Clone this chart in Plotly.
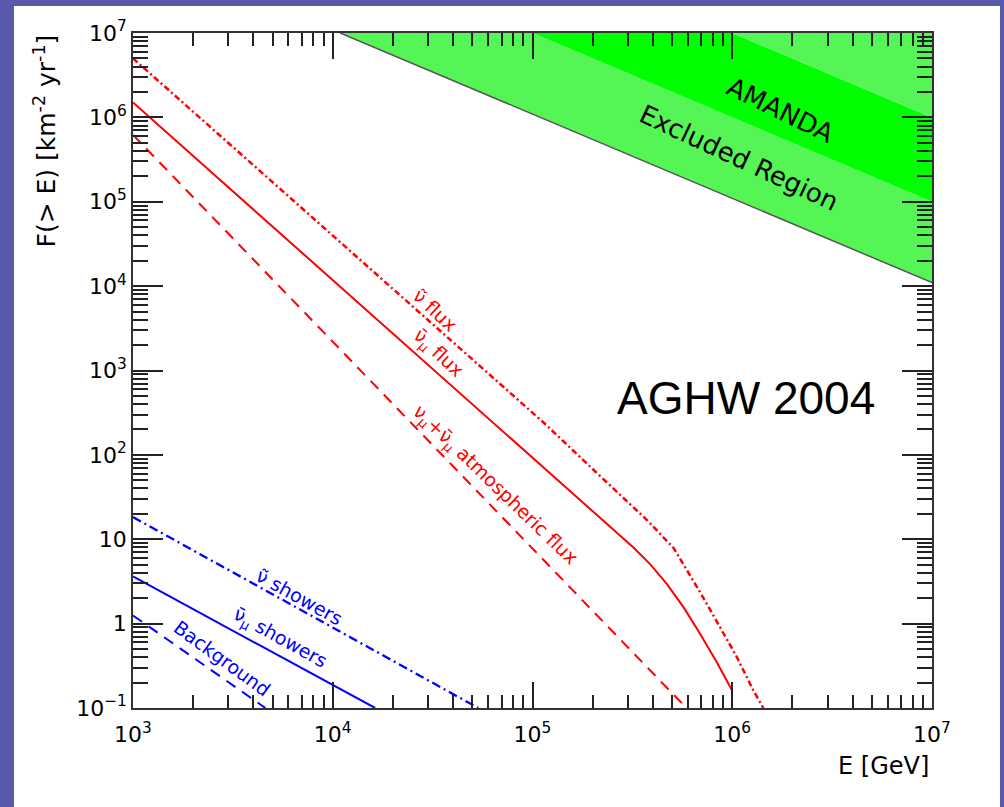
import plotly.graph_objects as go

# ---------------- data ----------------
# red: all-flavour (nu-tilde) flux, dash-dot
E_nu_tilde = [1e3, 1.14e5, 2.36e5, 3.73e5, 5.08e5, 5.93e5, 6.9e5, 8.69e5, 1.055e6, 1.276e6, 1.43e6]
F_nu_tilde = [5.0e6, 240, 47, 17, 7.9, 4.27, 2.36, 0.906, 0.40, 0.161, 0.1]
# red: anti-nu_mu flux, solid
E_numu = [1e3, 2.18e5, 2.7e5, 3.2e5, 3.9e5, 4.7e5, 5.7e5, 6.9e5, 8.37e5, 1e6]
F_numu = [1.5e6, 18, 11.5, 8.0, 5.0, 2.96, 1.57, 0.757, 0.348, 0.16]
# red: atmospheric flux, dashed
E_atm = [1e3, 5.9e5]
F_atm = [6.2e5, 0.1]
# blue: showers
E_sh_tilde = [1e3, 5.35e4]
F_sh_tilde = [18.3, 0.1]
E_sh_numu = [1e3, 1.63e4]
F_sh_numu = [3.62, 0.1]
E_bkg = [1e3, 4.6e3]
F_bkg = [1.25, 0.1]
# AMANDA excluded region: boundary and band edges
E_amanda = [1.09e4, 1e7]
F_amanda = [1e7, 1.1e4]
E_band1 = [1e5, 1e7]
F_band1 = [1e7, 1e5]
E_band2 = [1e6, 1e7]
F_band2 = [1e7, 1e6]
E_corner = [1e7]
F_corner = [1e7]

x_tickvals = [1e3, 1e4, 1e5, 1e6, 1e7]
x_ticktext = ["10<sup>3</sup>", "10<sup>4</sup>", "10<sup>5</sup>", "10<sup>6</sup>", "10<sup>7</sup>"]
y_tickvals = [0.1, 1, 10, 100, 1e3, 1e4, 1e5, 1e6, 1e7]
y_ticktext = ["10<sup>\u22121</sup>", "1", "10", "10<sup>2</sup>", "10<sup>3</sup>",
              "10<sup>4</sup>", "10<sup>5</sup>", "10<sup>6</sup>", "10<sup>7</sup>"]

# ---------------- styling ----------------
W, H = 1004, 807
L, R, T, B = 133, 72, 33, 99
BORDER = "#575AAA"
LIGHT_GREEN = "#55f555"
GREEN = "#00ff00"
RED = "#ff0000"
BLUE = "#0000ff"


def minor_vals(lo, hi):
    vals = []
    for e in range(lo, hi):
        for m in range(2, 10):
            vals.append(m * 10.0 ** e)
    return vals


fig = go.Figure()


def poly(xs, ys, color):
    fig.add_trace(go.Scatter(x=xs, y=ys, mode="lines", fill="toself", fillcolor=color,
                             line=dict(width=0, color=color), hoverinfo="skip", showlegend=False))


poly(E_amanda + E_band1[::-1], F_amanda + F_band1[::-1], LIGHT_GREEN)
poly(E_band1 + E_band2[::-1], F_band1 + F_band2[::-1], GREEN)
poly(E_band2 + E_corner, F_band2 + F_corner, LIGHT_GREEN)
fig.add_trace(go.Scatter(x=E_amanda, y=F_amanda, mode="lines",
                         line=dict(color="#555555", width=1.5), hoverinfo="skip", showlegend=False))


def curve(xs, ys, color, dash, width=2):
    fig.add_trace(go.Scatter(x=xs, y=ys, mode="lines", line=dict(color=color, width=width, dash=dash),
                             hoverinfo="skip", showlegend=False))


curve(E_nu_tilde, F_nu_tilde, RED, "6px,3px,2px,3px", 2.5)
curve(E_numu, F_numu, RED, "solid")
curve(E_atm, F_atm, RED, "11px,8px")
curve(E_sh_tilde, F_sh_tilde, BLUE, "9px,4px,2px,4px", 2.3)
curve(E_sh_numu, F_sh_numu, BLUE, "solid")
curve(E_bkg, F_bkg, BLUE, "11px,8px")

tickfont = dict(family="DejaVu Sans", size=22, color="black")
fig.update_xaxes(type="log", range=[3, 7], showgrid=False, zeroline=False,
                 showline=True, linecolor="#333333", linewidth=1.5, mirror="allticks",
                 tickmode="array", tickvals=x_tickvals, ticktext=x_ticktext,
                 ticks="inside", ticklen=26, tickwidth=1.5, tickcolor="#222222",
                 ticklabelstandoff=6,
                 minor=dict(ticks="inside", ticklen=13, tickwidth=1.5, tickcolor="#222222",
                            tickmode="array", tickvals=minor_vals(3, 7), showgrid=False),
                 tickfont=tickfont)
fig.update_yaxes(type="log", range=[-1, 7], showgrid=False, zeroline=False,
                 showline=True, linecolor="#333333", linewidth=1.5, mirror="allticks",
                 tickmode="array", tickvals=y_tickvals, ticktext=y_ticktext,
                 ticks="inside", ticklen=30, tickwidth=1.5, tickcolor="#222222",
                 minor=dict(ticks="inside", ticklen=15, tickwidth=1.5, tickcolor="#222222",
                            tickmode="array", tickvals=minor_vals(-1, 7), showgrid=False),
                 tickfont=tickfont)

pw = W - L - R
ph = H - T - B


def px(xp):
    return (xp - L) / pw


def py(yp):
    return (H - B - yp) / ph


lab = dict(family="DejaVu Sans", size=19)
annotations = [
    dict(text="\u03bd\u0303 flux", x=4.512, y=3.714, textangle=43, font=dict(lab, color=RED)),
    dict(text="\u03bd\u0304<sub>\u03bc</sub> flux", x=4.527, y=3.204, textangle=43, font=dict(lab, color=RED)),
    dict(text="\u03bd<sub>\u03bc</sub>+\u03bd\u0304<sub>\u03bc</sub> atmospheric flux", x=4.813, y=1.638,
         textangle=44, font=dict(lab, color=RED)),
    dict(text="\u03bd\u0303 showers", x=3.836, y=0.321, textangle=29, font=dict(lab, color=BLUE)),
    dict(text="\u03bd\u0304<sub>\u03bc</sub> showers", x=3.736, y=-0.177, textangle=29, font=dict(lab, color=BLUE)),
    dict(text="Background", x=3.446, y=-0.402, textangle=36, font=dict(lab, color=BLUE)),
    dict(text="AMANDA", x=6.24, y=6.087, textangle=26, font=dict(family="DejaVu Sans", size=26, color="black")),
    dict(text="Excluded Region", x=6.035, y=5.517, textangle=25, font=dict(family="DejaVu Sans", size=26, color="black")),
    dict(text="AGHW 2004", x=6.07, y=2.68, font=dict(family="Liberation Sans, Arial", size=46, color="black")),
]
for a in annotations:
    a.update(xref="x", yref="y", showarrow=False, xanchor="center", yanchor="middle")
    fig.add_annotation(**a)

fig.add_annotation(text="E [GeV]", xref="paper", yref="paper", x=px(931), y=py(766),
                   xanchor="right", yanchor="middle", showarrow=False,
                   font=dict(family="DejaVu Sans", size=24, color="black"))
fig.add_annotation(text="F(> E) [km<sup>-2</sup> yr<sup>-1</sup>]", xref="paper", yref="paper",
                   x=px(45), y=py(33), xanchor="center", yanchor="top", textangle=-90, showarrow=False,
                   font=dict(family="DejaVu Sans", size=25, color="black"))

# white slide area on the coloured frame
fig.add_shape(type="rect", xref="paper", yref="paper", x0=px(14), x1=px(1000), y0=py(H + 5), y1=py(6),
              fillcolor="white", line=dict(width=0), layer="below")

fig.update_layout(width=W, height=H, margin=dict(l=L, r=R, t=T, b=B, pad=0),
                  paper_bgcolor=BORDER, plot_bgcolor="white", showlegend=False)

fig.write_html("out.html", config={"displayModeBar": False},
               post_script="document.body.style.margin='0';document.body.style.overflow='hidden';")
